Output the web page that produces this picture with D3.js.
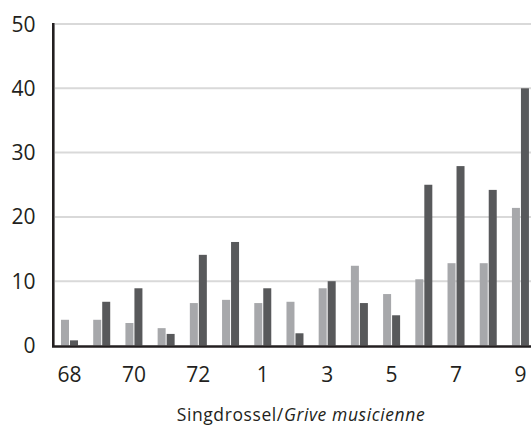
<!DOCTYPE html>
<html>
<head>
<meta charset="utf-8">
<script src="https://cdn.jsdelivr.net/npm/d3@7"></script>
<style>
html,body{margin:0;padding:0;background:#fff;}
svg{display:block;}
text{font-family:"Open Sans","Noto Sans",sans-serif;}
</style>
</head>
<body>
<script>
const categories = ["68","69","70","71","72","73","1","2","3","4","5","6","7","8","9"];
const tickLabels = ["68","70","72","1","3","5","7","9"];
const seriesLight = [4.0,4.0,3.5,2.7,6.6,7.1,6.6,6.8,8.9,12.4,8.0,10.3,12.8,12.8,21.4];
const seriesDark  = [0.8,6.8,8.9,1.8,14.1,16.1,8.9,1.9,10.0,6.6,4.7,25.0,27.9,24.2,40.0];
const yTicks = [0,10,20,30,40,50];
const title = ["Singdrossel/", "Grive musicienne"];

const W = 531, H = 425;
const svg = d3.select("body").append("svg").attr("width", W).attr("height", H);

const x = d3.scaleBand().domain(categories).range([53.4, 53.4 + 15*32.21]).padding(0);
const y = d3.scaleLinear().domain([0,50]).range([345.5, 24]);
const bw = 8;

// gridlines
svg.append("g").selectAll("line").data(yTicks.filter(d=>d>0)).join("line")
  .attr("x1", 55).attr("x2", W)
  .attr("y1", d=>y(d)).attr("y2", d=>y(d))
  .attr("stroke", "#d9d9d9").attr("stroke-width", 2);

const g = svg.append("g");
g.selectAll("rect.l").data(seriesLight).join("rect").attr("class","l")
  .attr("x", (d,i)=>x(categories[i]) + x.bandwidth()/2 - bw - 0.5)
  .attr("y", d=>y(d)).attr("width", bw).attr("height", d=>y(0)-y(d))
  .attr("fill", "#a7a8ab");
g.selectAll("rect.d").data(seriesDark).join("rect").attr("class","d")
  .attr("x", (d,i)=>x(categories[i]) + x.bandwidth()/2 + 0.5)
  .attr("y", d=>y(d)).attr("width", bw).attr("height", d=>y(0)-y(d))
  .attr("fill", "#58595b");

// axes lines
svg.append("line").attr("x1", 53.3).attr("x2", 53.3).attr("y1", y(50)-1).attr("y2", y(0)+1.2)
  .attr("stroke", "#231f20").attr("stroke-width", 2.6);
svg.append("line").attr("x1", 52).attr("x2", W).attr("y1", y(0)+1).attr("y2", y(0)+1)
  .attr("stroke", "#231f20").attr("stroke-width", 2.6);

// y labels
svg.append("g").selectAll("text").data(yTicks).join("text")
  .attr("x", 35.5).attr("y", d=>y(d)).attr("dy", "0.36em")
  .attr("text-anchor", "end").attr("font-size", 21).attr("fill", "#231f20")
  .text(d=>d);

// x labels
svg.append("g").selectAll("text").data(tickLabels).join("text")
  .attr("x", d=>x(d) + x.bandwidth()/2).attr("y", 382)
  .attr("text-anchor", "middle").attr("font-size", 21).attr("fill", "#231f20")
  .text(d=>d);

// title
const t = svg.append("text").attr("x", 301).attr("y", 421).attr("text-anchor","middle")
  .attr("font-size", 17.5).attr("letter-spacing", 0.6).attr("fill", "#231f20");
t.append("tspan").text(title[0]);
t.append("tspan").attr("font-style","italic").text(title[1]);
</script>
</body>
</html>
